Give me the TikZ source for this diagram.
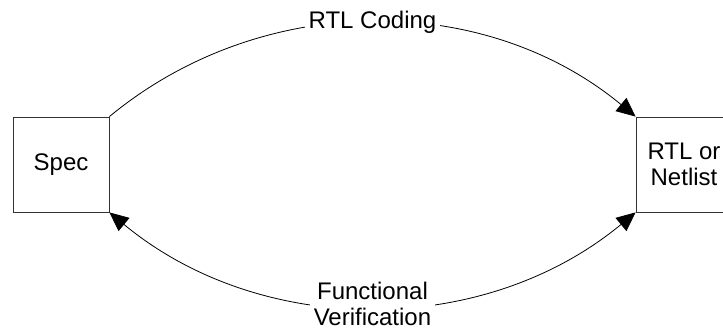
\documentclass[tikz,border=0pt]{standalone}
\usepackage{fontspec}
\setmainfont{Liberation Sans}
\usetikzlibrary{arrows.meta}
\begin{document}
\begin{tikzpicture}[x=1pt,y=1pt,
  every node/.style={font=\fontsize{24}{26}\selectfont},
  block/.style={draw=black!80, line width=0.8pt, fill=white,
    minimum width=96pt, minimum height=95pt, inner sep=0pt, align=center},
  flow/.style={draw=black, line width=0.8pt},
  lbl/.style={fill=white, inner xsep=4pt, inner ysep=0.5pt, align=center}]
  \useasboundingbox (0,0) rectangle (723,329);
  \clip (0,0) rectangle (723,329);

  % the two blocks
  \node[block] (spec) at (61,164.5) {Spec};
  \node[block] (rtl) at (684,164.5) {RTL or\\Netlist};

  % upper arc: coding
  \draw[flow, -{Triangle[length=19pt,width=17pt]}]
    (spec.north east) to[out=39.6, in=140.4, looseness=0.96]
    node[lbl, pos=0.5] (coding) {RTL Coding} (rtl.north west);

  % lower arc: verification
  \draw[flow, {Triangle[length=19pt,width=17pt]}-{Triangle[length=19pt,width=17pt]}]
    (spec.south east) to[out=-39.6, in=-140.4, looseness=0.96]
    node[lbl, pos=0.5, yshift=3pt] (verif) {Functional\\Verification} (rtl.south west);
\end{tikzpicture}
\end{document}
